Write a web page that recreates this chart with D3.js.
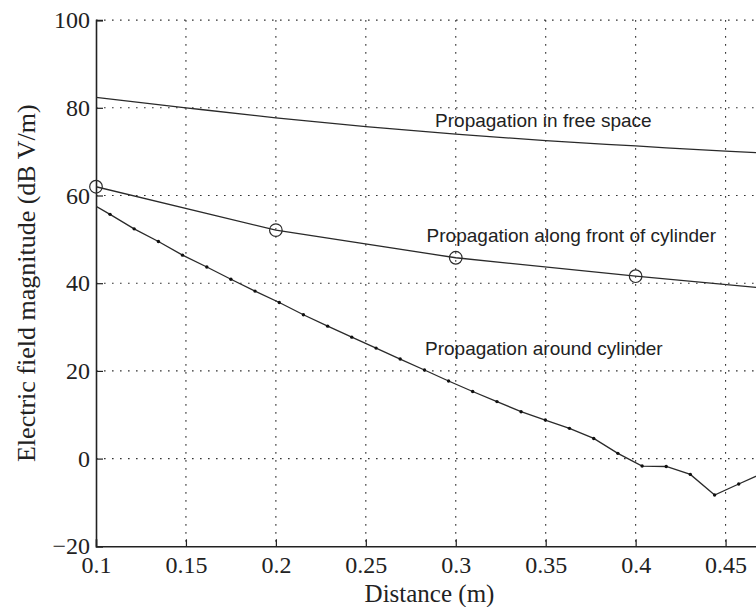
<!DOCTYPE html>
<html>
<head>
<meta charset="utf-8">
<script src="https://cdn.jsdelivr.net/npm/d3@7"></script>
<style>
  html, body { margin: 0; padding: 0; background: #fff; }
  svg { display: block; }
</style>
</head>
<body>
<svg id="chart" width="756" height="607"></svg>
<script>
// Free-space propagation (dB V/m) against distance (m)
const freeDist  = [0.10, 0.15, 0.20, 0.25, 0.30, 0.35, 0.40, 0.45, 0.4708];
const freeField = [82.4, 80.0, 77.7, 75.7, 74.0, 72.5, 71.3, 70.1, 69.7];

// Propagation along the front of the cylinder
const frontDist  = [0.10, 0.20, 0.30, 0.40, 0.4708];
const frontField = [62.0, 52.1, 45.8, 41.6, 38.9];

// Propagation around the cylinder (sampled points)
const aroundDist = [0.0943, 0.1078, 0.1212, 0.1347, 0.1481, 0.1616, 0.1750, 0.1884,
                    0.2019, 0.2153, 0.2288, 0.2422, 0.2557, 0.2691, 0.2826, 0.2960,
                    0.3094, 0.3229, 0.3363, 0.3498, 0.3632, 0.3767, 0.3901, 0.4036,
                    0.4170, 0.4304, 0.4439, 0.4573, 0.4708];
const aroundField = [58.9, 55.7, 52.4, 49.5, 46.4, 43.7, 40.9, 38.2,
                     35.6, 32.8, 30.2, 27.7, 25.2, 22.7, 20.2, 17.7,
                     15.3, 13.0, 10.7, 8.8, 6.9, 4.6, 1.2, -1.7,
                     -1.8, -3.6, -8.3, -5.8, -3.3];

const xTicks = [0.1, 0.15, 0.2, 0.25, 0.3, 0.35, 0.4, 0.45];
const yTicks = [-20, 0, 20, 40, 60, 80, 100];

const annotations = [
  { text: "Propagation in free space",            x: 0.2885, y: 75.7 },
  { text: "Propagation along front of cylinder",  x: 0.2838, y: 49.3 },
  { text: "Propagation around cylinder",          x: 0.2829, y: 23.6 }
];

const svg = d3.select("#chart");
const plotLeft = 96, plotRight = 763, plotTop = 20.1, plotBottom = 546.3;

const x = d3.scaleLinear().domain([0.1, 0.4708]).range([plotLeft, plotRight]);
const y = d3.scaleLinear().domain([-20, 100]).range([plotBottom, plotTop]);

const ink = "#222";
const serif = "'Liberation Serif', 'Times New Roman', serif";
const sans = "'Liberation Sans', Arial, sans-serif";

svg.append("defs").append("clipPath").attr("id", "plot-clip")
  .append("rect").attr("x", plotLeft).attr("y", plotTop)
  .attr("width", plotRight - plotLeft).attr("height", plotBottom - plotTop);

// dotted grid
const grid = svg.append("g").attr("stroke", "#333").attr("stroke-width", 1.1)
  .attr("stroke-dasharray", "1.6,6.4");
grid.selectAll("line.v").data(xTicks.filter(d => d > 0.1)).join("line")
  .attr("class", "v")
  .attr("x1", d => x(d)).attr("x2", d => x(d))
  .attr("y1", plotTop).attr("y2", plotBottom);
grid.selectAll("line.h").data(yTicks.filter(d => d > -20)).join("line")
  .attr("class", "h")
  .attr("x1", plotLeft).attr("x2", plotRight)
  .attr("y1", d => y(d)).attr("y2", d => y(d));

// axes
const xAxis = d3.axisBottom(x).tickValues(xTicks).tickSize(-7).tickPadding(10)
  .tickFormat(d3.format("~g"));
const yAxis = d3.axisLeft(y).tickValues(yTicks).tickSize(-7).tickPadding(6)
  .tickFormat(d3.format("~g"));

const gx = svg.append("g").attr("transform", `translate(0,${plotBottom})`).call(xAxis);
const gy = svg.append("g").attr("transform", `translate(${plotLeft},0)`).call(yAxis);
[gx, gy].forEach(g => {
  g.select(".domain").attr("stroke", ink).attr("stroke-width", 1.6);
  g.selectAll(".tick line").attr("stroke", ink).attr("stroke-width", 1.2);
  g.selectAll(".tick text").attr("fill", ink)
    .style("font-family", serif).style("font-size", "24px");
});

// axis labels
svg.append("text")
  .attr("x", (plotLeft + plotRight) / 2).attr("y", 602)
  .attr("text-anchor", "middle").attr("fill", ink)
  .style("font-family", serif).style("font-size", "25px")
  .text("Distance (m)");
svg.append("text")
  .attr("transform", `translate(35,${(plotTop + plotBottom) / 2}) rotate(-90)`)
  .attr("text-anchor", "middle").attr("fill", ink)
  .style("font-family", serif).style("font-size", "26px")
  .text("Electric field magnitude (dB V/m)");

// series
const line = d3.line().x(d => x(d[0])).y(d => y(d[1]));
const smoothLine = d3.line().curve(d3.curveMonotoneX).x(d => x(d[0])).y(d => y(d[1]));
const plot = svg.append("g").attr("clip-path", "url(#plot-clip)")
  .attr("fill", "none").attr("stroke", "#2a2a2a").attr("stroke-width", 1.3);

const freeData = d3.zip(freeDist, freeField);
const frontData = d3.zip(frontDist, frontField);
const aroundData = d3.zip(aroundDist, aroundField);

plot.append("path").attr("d", smoothLine(freeData));
plot.append("path").attr("d", line(frontData));
plot.append("path").attr("d", line(aroundData));

// markers
svg.append("g").attr("fill", "none").attr("stroke", "#2a2a2a").attr("stroke-width", 1.2)
  .selectAll("circle").data(frontData).join("circle")
  .attr("cx", d => x(d[0])).attr("cy", d => y(d[1])).attr("r", 6.3);

svg.append("g").attr("fill", "#111")
  .selectAll("circle").data(aroundData.filter(d => d[0] >= 0.1)).join("circle")
  .attr("cx", d => x(d[0])).attr("cy", d => y(d[1])).attr("r", 1.7);

// curve annotations
svg.append("g").selectAll("text").data(annotations).join("text")
  .attr("x", d => x(d.x)).attr("y", d => y(d.y))
  .attr("fill", "#222")
  .style("font-family", sans).style("font-size", "19px")
  .text(d => d.text);
</script>
</body>
</html>
